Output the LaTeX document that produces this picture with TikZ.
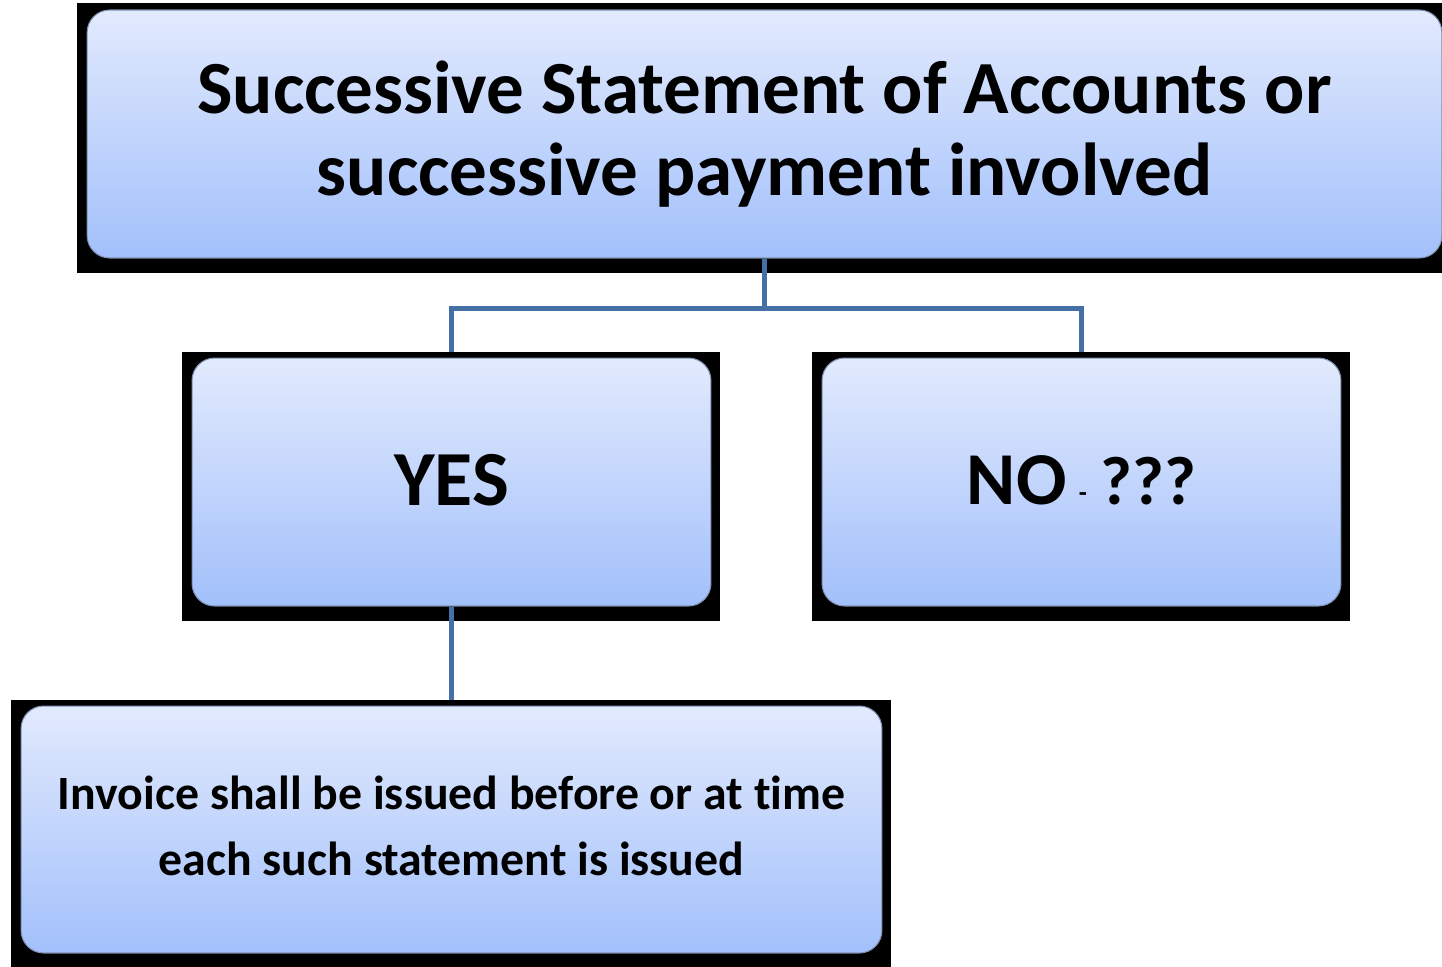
\documentclass[tikz,border=0pt]{standalone}
\usepackage{fontspec}
\setmainfont{Carlito}[Ligatures=NoCommon]
\usetikzlibrary{backgrounds}
\tikzset{>=stealth}
\definecolor{boxtop}{HTML}{E2EAFD}
\definecolor{boxbot}{HTML}{A2C0FB}
\definecolor{boxedge}{HTML}{7F90B0}
\definecolor{linkblue}{HTML}{4470A6}
\tikzset{
  bluebox/.style={rounded corners=0.45cm, draw=boxedge, line width=0.6pt,
    top color=boxtop, bottom color=boxbot, align=center,
    inner sep=0pt, minimum height=4.96cm},
  link/.style={draw=linkblue, line width=2.8pt},
  frame/.style={fill=black}
}
\newcommand{\blackframe}[1]{\fill[frame] ([shift={(-10,-6)}]#1.north west) rectangle ([shift={(9,14)}]#1.south east);}

\begin{document}
\begin{tikzpicture}[x=0.02cm, y=-0.02cm]
\useasboundingbox (0,0) rectangle (1442,966);
\node[bluebox, minimum width=27.1cm, font=\bfseries\fontsize{42.7}{46.8}\selectfont] (top) at (764.5,134)
  {Successive Statement of Accounts or\\ successive payment involved};
\node[bluebox, minimum width=10.38cm, font=\bfseries\fontsize{44.4}{48}\selectfont] (yes) at (451.5,482)
  {\raisebox{2pt}{YES}};
\node[bluebox, minimum width=10.38cm, font=\bfseries\fontsize{42.5}{48}\selectfont] (no) at (1081.5,482)
  {\raisebox{2pt}{NO\hspace{7pt}\raisebox{2pt}{\fontsize{15}{15}\selectfont -}\hspace{8pt}{\fontsize{39}{48}\selectfont ???}}};
\node[bluebox, minimum width=17.22cm, minimum height=4.94cm, font=\bfseries\fontsize{27.2}{37.6}\selectfont] (invoice) at (451.5,829.5)
  {\raisebox{3pt}{\begin{tabular}{@{}c@{}}Invoice shall be issued before or at time\\ each such statement is issued\end{tabular}}};
\begin{scope}[on background layer]
\blackframe{top}
\blackframe{yes}
\blackframe{no}
\blackframe{invoice}
\end{scope}
\draw[link, shorten >=0.12cm] (top.south) -- ++(0,50) -| (yes.north);
\draw[link, shorten >=0.12cm] (top.south) -- ++(0,50) -| (no.north);
\draw[link, shorten >=0.12cm] (yes.south) -- (invoice.north);
\end{tikzpicture}
\end{document}
